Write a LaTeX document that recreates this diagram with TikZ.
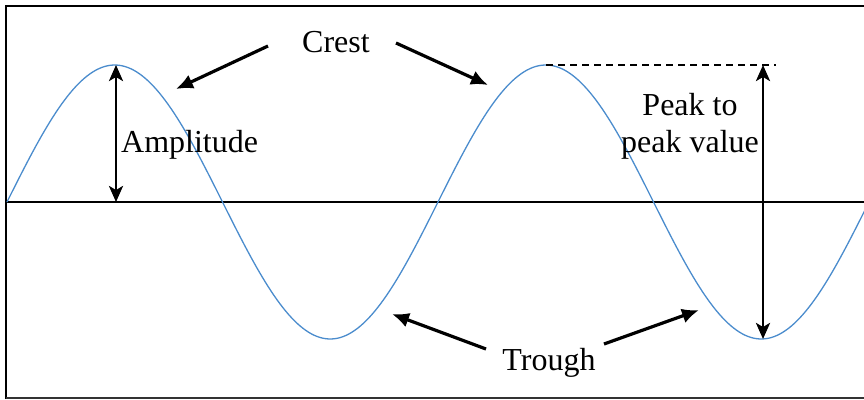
\documentclass[tikz,border=0pt]{standalone}
\usepackage{fontspec}
\setmainfont{Liberation Serif}
\usetikzlibrary{arrows.meta}
\definecolor{wave}{RGB}{75,140,205}
\begin{document}
\begin{tikzpicture}[x=1pt,y=-1pt,
  lbl/.style={inner sep=0pt,font=\fontsize{32}{37}\selectfont},
  pointer/.style={line width=3.2pt,-{Latex[length=17pt,width=15pt]}},
  measure/.style={line width=2.8pt,{Stealth[length=16pt,width=14pt,inset=4pt]}-{Stealth[length=16pt,width=14pt,inset=4pt]}},
  frame/.style={line width=2.8pt,black}]
\useasboundingbox (0,0) rectangle (864,399);
% frame
\draw[frame] (6,399) -- (6,6) -- (866,6);
\draw[line width=1.8pt,black!80] (6,398) -- (866,398);
% axis
\draw[line width=2.2pt] (5,202) -- (866,202);
% wave
\draw[wave,line width=1.3pt] plot[domain=7:866,samples=300] (\x,{202-137*sin((\x-7)/431*360)});
% coordinates
\coordinate (c1) at (116,65);
\coordinate (c2) at (546,65);
\coordinate (t2) at (763,339);
\coordinate (a0) at (116,202);
\coordinate (dashend) at (776,65);
\coordinate (ptop) at (763,65);
% labels
\node[lbl,anchor=base] (crest) at (336,52) {Crest};
\node[lbl,anchor=base west] (amp) at (121,152) {Amplitude};
\node[lbl,anchor=base,align=center] (p2p) at (690,152) {Peak to\\peak value};
\node[lbl,anchor=base] (trough) at (549,370) {Trough};
% crest arrows
\coordinate (cs1) at (268,46);
\coordinate (ce1) at (176,89);
\coordinate (cs2) at (396,43);
\coordinate (ce2) at (488,85);
\draw[pointer] (cs1) -- (ce1);
\draw[pointer] (cs2) -- (ce2);
% trough arrows
\coordinate (ts1) at (486,349);
\coordinate (te1) at (392,314);
\coordinate (ts2) at (604,344);
\coordinate (te2) at (699,310);
\draw[pointer] (ts1) -- (te1);
\draw[pointer] (ts2) -- (te2);
% amplitude
\draw[measure] (c1) -- (a0);
% peak to peak
\draw[line width=2pt,dash pattern=on 7pt off 5pt] (c2) -- (dashend);
\draw[measure] (ptop) -- (t2);
\end{tikzpicture}
\end{document}
